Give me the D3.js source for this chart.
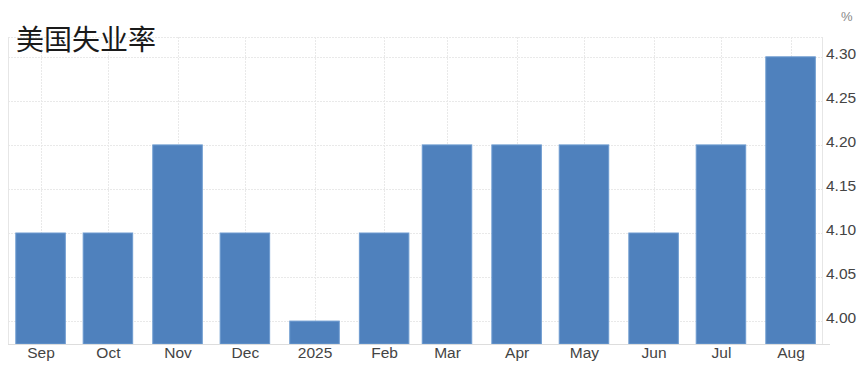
<!DOCTYPE html>
<html>
<head>
<meta charset="utf-8">
<script src="https://cdn.jsdelivr.net/npm/d3@7"></script>
<style>
  body { margin: 0; background: #fff; }
</style>
</head>
<body>
<div id="chart"></div>
<script>
// data
var months = ["2024-09-01","2024-10-01","2024-11-01","2024-12-01","2025-01-01","2025-02-01",
              "2025-03-01","2025-04-01","2025-05-01","2025-06-01","2025-07-01","2025-08-01"];
var monthLabels = ["Sep","Oct","Nov","Dec","2025","Feb","Mar","Apr","May","Jun","Jul","Aug"];
var rates = [4.1, 4.1, 4.2, 4.1, 4.0, 4.1, 4.2, 4.2, 4.2, 4.1, 4.2, 4.3];
var yTicks = [4.00, 4.05, 4.10, 4.15, 4.20, 4.25, 4.30];

const width = 864, height = 370;
const plot = {left: 8, right: 822, top: 37, bottom: 344};
const parse = d3.timeParse("%Y-%m-%d");

var dataset = months.map(function(m, i) {
    return {date: parse(m), value: rates[i], label: monthLabels[i]};
});

var svg = d3.select("#chart")
    .append("svg")
        .attr("width", width)
        .attr("height", height);

var xScale = d3.scaleTime()
    .domain([new Date(2024, 7, 17, 12), new Date(2025, 7, 15)])
    .range([plot.left, plot.right]);

var yScale = d3.scaleLinear()
    .domain([3.974, 4.3225])
    .range([plot.bottom, plot.top]);

var barWidth = 49.5;

// horizontal grid
svg.append("g")
    .selectAll("line")
    .data(yTicks.concat([yScale.domain()[1]]))
    .enter().append("line")
        .attr("x1", plot.left)
        .attr("x2", plot.right)
        .attr("y1", function(d) { return Math.round(yScale(d)) + 0.5; })
        .attr("y2", function(d) { return Math.round(yScale(d)) + 0.5; })
        .style("stroke", "#e9e9e9")
        .style("stroke-dasharray", "2,1");

// vertical grid at each month
svg.append("g")
    .selectAll("line")
    .data(dataset)
    .enter().append("line")
        .attr("x1", function(d) { return Math.round(xScale(d.date)) + 0.5; })
        .attr("x2", function(d) { return Math.round(xScale(d.date)) + 0.5; })
        .attr("y1", plot.top)
        .attr("y2", plot.bottom)
        .style("stroke", "#e9e9e9")
        .style("stroke-dasharray", "2,1");

// plot borders
svg.append("line")
    .attr("x1", plot.left + 0.5).attr("x2", plot.left + 0.5)
    .attr("y1", plot.top).attr("y2", plot.bottom)
    .style("stroke", "#e6e6e6");
svg.append("line")
    .attr("x1", plot.right + 0.5).attr("x2", plot.right + 0.5)
    .attr("y1", plot.top).attr("y2", plot.bottom)
    .style("stroke", "#e6e6e6");

// bars
svg.append("g")
    .selectAll("rect")
    .data(dataset)
    .enter().append("rect")
        .attr("x", function(d) { return xScale(d.date) - barWidth / 2; })
        .attr("y", function(d) { return yScale(d.value); })
        .attr("width", barWidth)
        .attr("height", function(d) { return plot.bottom - yScale(d.value); })
        .style("fill", "#4f81bd")
        .style("stroke", "#6d9bd0")
        .style("stroke-width", 1);

// x axis
const xAxis = d3.axisBottom(xScale)
    .tickValues(dataset.map(function(d) { return d.date; }))
    .tickFormat(function(d, i) { return monthLabels[i]; })
    .tickSize(0)
    .tickPadding(3);
svg.append("g")
    .attr("transform", `translate(0,${plot.bottom})`)
    .call(xAxis)
    .call(g => g.select(".domain").attr("d", `M${plot.left},0.5H${plot.right + 8}`).style("stroke", "#dddddd"))
    .selectAll("text")
        .style("font-family", "Liberation Sans, Arial, sans-serif")
        .style("font-size", "15.5px")
        .style("fill", "#444");

// y axis
const yAxis = d3.axisRight(yScale)
    .tickValues(yTicks)
    .tickFormat(d3.format(".2f"))
    .tickSize(0)
    .tickPadding(4);
svg.append("g")
    .attr("transform", `translate(${plot.right},0)`)
    .call(yAxis)
    .call(g => g.select(".domain").remove())
    .selectAll("text")
        .attr("dy", "0.12em")
        .style("font-family", "Liberation Sans, Arial, sans-serif")
        .style("font-size", "15.5px")
        .style("fill", "#444");

// unit
svg.append("text")
    .attr("x", 841)
    .attr("y", 21)
    .style("font-family", "Liberation Sans, Arial, sans-serif")
    .style("font-size", "13px")
    .style("fill", "#888")
    .text("%");

// title
svg.append("text")
    .attr("x", 16)
    .attr("y", 50)
    .style("font-family", "Noto Sans CJK SC, sans-serif")
    .style("font-size", "28px")
    .style("fill", "#1a1a1a")
    .text("美国失业率");
</script>
</body>
</html>
